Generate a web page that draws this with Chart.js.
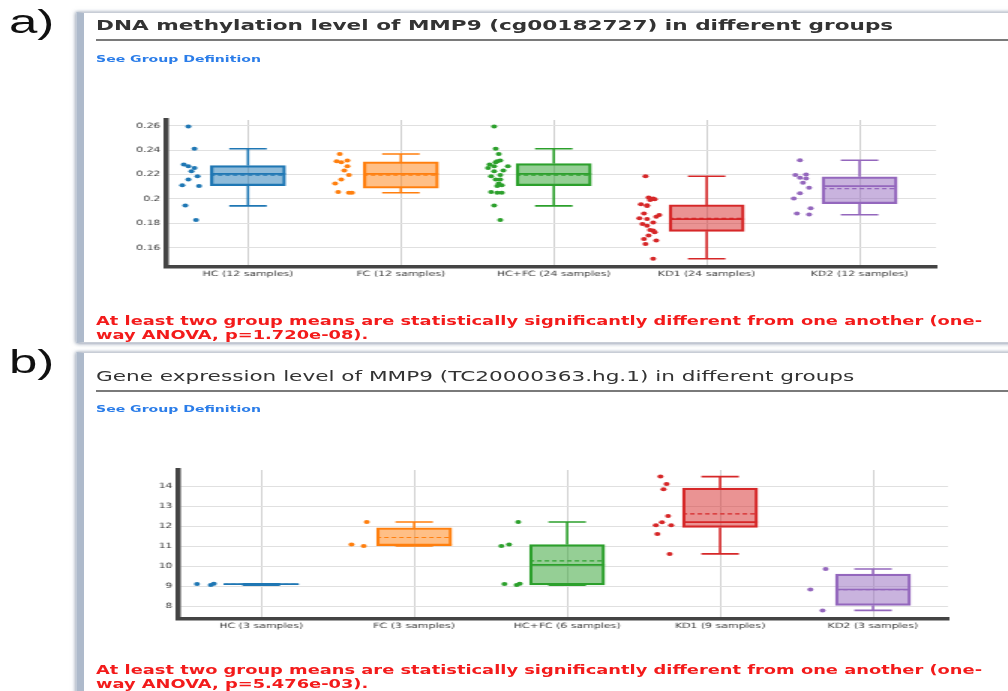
<!DOCTYPE html>
<html>
<head>
<meta charset="utf-8">
<script src="https://cdn.jsdelivr.net/npm/chart.js@4"></script>
<style>
  html, body { margin: 0; padding: 0; background: #fff; overflow: hidden; width: 1008px; height: 691px; }
  /* the reference is stretched sideways, so the whole page is laid out narrow and widened */
  #page { position: absolute; left: 0; top: 0; width: 672px; height: 691px; transform: scaleX(1.5); transform-origin: 0 0; font-family: "DejaVu Sans", sans-serif; }
  .lbl { position: absolute; left: 6px; font-family: "Liberation Sans", Arial, sans-serif; font-size: 34px; line-height: 34px; color: #111; }
  .panel { position: absolute; left: 51px; width: 660px; background: #fff; border-left: 5px solid #aebacb; border-top: 1px solid #c8cdd6; border-bottom: 1px solid #c8cdd6; box-shadow: -1px 0 3px rgba(110,125,150,.55), 0 1px 3px rgba(110,125,150,.45); }
  .title { position: absolute; left: 64px; font-size: 14.4px; line-height: 1; color: #333; white-space: nowrap; }
  .rule { position: absolute; left: 64px; width: 620px; height: 2px; background: #7a7a7a; }
  .link { position: absolute; left: 64px; font-size: 9.4px; line-height: 1; font-weight: bold; color: #2b7de9; white-space: nowrap; }
  .note { position: absolute; left: 64px; font-size: 11.9px; line-height: 14px; font-weight: bold; color: #f31b1b; white-space: nowrap; }
  canvas { position: absolute; }
</style>
</head>
<body>
<div id="page">
  <div class="lbl" style="top:4px">a)</div>
  <div class="panel" style="top:12px;height:329px"></div>
  <div class="title" style="top:18px;font-weight:bold">DNA methylation level of MMP9 (cg00182727) in different groups</div>
  <div class="rule" style="top:39px"></div>
  <div class="link" style="top:54px">See Group Definition</div>
  <canvas id="chartA" width="570" height="180" style="left:66px;top:110px"></canvas>
  <div class="note" style="top:314px">At least two group means are statistically significantly different from one another (one-<br>way ANOVA, p=1.720e-08).</div>

  <div class="lbl" style="top:344px">b)</div>
  <div class="panel" style="top:352px;height:360px"></div>
  <div class="title" style="top:369px">Gene expression level of MMP9 (TC20000363.hg.1) in different groups</div>
  <div class="rule" style="top:390px"></div>
  <div class="link" style="top:404px">See Group Definition</div>
  <canvas id="chartB" width="580" height="180" style="left:66px;top:460px"></canvas>
  <div class="note" style="top:663px">At least two group means are statistically significantly different from one another (one-<br>way ANOVA, p=5.476e-03).</div>
</div>

<script>
const colors = ["#1f77b4", "#ff7f0e", "#2ca02c", "#d62728", "#9467bd"];
const fills = ["rgba(31,119,180,0.5)", "rgba(255,127,14,0.5)", "rgba(44,160,44,0.5)", "rgba(214,39,40,0.5)", "rgba(148,103,189,0.5)"];

// ---- a) DNA methylation ----
const groupsA = ["HC (12 samples)", "FC (12 samples)", "HC+FC (24 samples)", "KD1 (24 samples)", "KD2 (12 samples)"];
const ticksA = [0.16, 0.18, 0.2, 0.22, 0.24, 0.26];

const hcA = [0.2592, 0.2411, 0.2281, 0.2268, 0.2254, 0.2227, 0.2186, 0.2159, 0.2111, 0.2105, 0.1946, 0.1827];
const hcJitA = [-0.39, -0.35, -0.42, -0.39, -0.35, -0.37, -0.33, -0.39, -0.43, -0.32, -0.41, -0.34];
const fcA = [0.2368, 0.2308, 0.2300, 0.2314, 0.2268, 0.2232, 0.2195, 0.2159, 0.2127, 0.2057, 0.2051, 0.2051];
const fcJitA = [-0.40, -0.42, -0.39, -0.35, -0.35, -0.37, -0.34, -0.39, -0.43, -0.41, -0.34, -0.32];
const hcfcA = [0.2592, 0.2411, 0.2368, 0.2314, 0.2308, 0.2300, 0.2281, 0.2268, 0.2268, 0.2254, 0.2232, 0.2227,
               0.2195, 0.2186, 0.2159, 0.2159, 0.2127, 0.2111, 0.2105, 0.2057, 0.2051, 0.2051, 0.1946, 0.1827];
const hcfcJitA = [-0.39, -0.38, -0.36, -0.35, -0.37, -0.38, -0.42, -0.39, -0.30, -0.43, -0.33, -0.39,
                  -0.35, -0.41, -0.38, -0.35, -0.36, -0.34, -0.37, -0.41, -0.37, -0.34, -0.39, -0.35];
const kd1A = [0.2186, 0.2011, 0.2003, 0.1997, 0.1992, 0.1957, 0.1949, 0.1943, 0.1881, 0.1868, 0.1854, 0.1841,
              0.1835, 0.1808, 0.1795, 0.1781, 0.1746, 0.1741, 0.1727, 0.1700, 0.1673, 0.1659, 0.1632, 0.1511];
const kd1JitA = [-0.40, -0.38, -0.35, -0.34, -0.37, -0.43, -0.39, -0.39, -0.41, -0.31, -0.33, -0.44,
                 -0.39, -0.35, -0.42, -0.39, -0.37, -0.35, -0.34, -0.38, -0.41, -0.33, -0.40, -0.35];
const kd2A = [0.2316, 0.2195, 0.2200, 0.2173, 0.2168, 0.2132, 0.2092, 0.2046, 0.2003, 0.1924, 0.1881, 0.1873];
const kd2JitA = [-0.39, -0.42, -0.35, -0.39, -0.35, -0.37, -0.33, -0.39, -0.43, -0.32, -0.41, -0.33];

const loA = [0.1943, 0.2051, 0.1943, 0.1511, 0.1870];
const q1A = [0.2108, 0.2089, 0.2108, 0.1735, 0.1962];
const medA = [0.2205, 0.2205, 0.2205, 0.1835, 0.2105];
const meanA = [0.2195, 0.2195, 0.2195, 0.1841, 0.2084];
const q3A = [0.2273, 0.2303, 0.2289, 0.1951, 0.2181];
const hiA = [0.2411, 0.2368, 0.2411, 0.2186, 0.2316];

// ---- b) gene expression ----
const groupsB = ["HC (3 samples)", "FC (3 samples)", "HC+FC (6 samples)", "KD1 (9 samples)", "KD2 (3 samples)"];
const ticksB = [8, 9, 10, 11, 12, 13, 14];

const hcB = [9.117, 9.067, 9.133];
const hcJitB = [-0.42, -0.33, -0.31];
const fcB = [11.1, 11.03, 12.23];
const fcJitB = [-0.41, -0.33, -0.31];
const hcfcB = [12.23, 11.03, 11.1, 9.117, 9.067, 9.133];
const hcfcJitB = [-0.32, -0.43, -0.38, -0.41, -0.33, -0.31];
const kd1B = [14.5, 14.13, 13.87, 12.53, 12.22, 12.07, 12.07, 11.63, 10.63];
const kd1JitB = [-0.39, -0.35, -0.37, -0.34, -0.38, -0.42, -0.32, -0.41, -0.33];
const kd2B = [9.87, 8.85, 7.8];
const kd2JitB = [-0.31, -0.41, -0.33];

const loB = [9.067, 11.03, 9.067, 10.63, 7.8];
const q1B = [9.1, 11.03, 9.08, 11.95, 8.05];
const medB = [9.117, 11.1, 10.08, 12.22, 8.85];
const meanB = [9.106, 11.45, 10.28, 12.63, 8.84];
const q3B = [9.12, 11.93, 11.1, 13.92, 9.62];
const hiB = [9.133, 12.23, 12.23, 14.5, 9.87];

// whiskers, caps, median and dashed mean for each box
function boxLines(lo, q1, med, mean, q3, hi) {
  return {
    id: "boxLines",
    afterDatasetsDraw(chart) {
      const { ctx, scales: { x, y } } = chart;
      const bars = chart.getDatasetMeta(0).data;
      ctx.save();
      med.forEach((m, i) => {
        const cx = x.getPixelForValue(i);
        const half = bars[i].width / 2;
        const cap = half / 2;
        const yLo = y.getPixelForValue(lo[i]), yHi = y.getPixelForValue(hi[i]);
        ctx.strokeStyle = colors[i];
        ctx.lineWidth = 1.6;
        ctx.setLineDash([]);
        ctx.beginPath();
        ctx.moveTo(cx, y.getPixelForValue(q3[i])); ctx.lineTo(cx, yHi);
        ctx.moveTo(cx, y.getPixelForValue(q1[i])); ctx.lineTo(cx, yLo);
        ctx.moveTo(cx - cap, yHi); ctx.lineTo(cx + cap, yHi);
        ctx.moveTo(cx - cap, yLo); ctx.lineTo(cx + cap, yLo);
        const ym = y.getPixelForValue(m);
        ctx.moveTo(cx - half, ym); ctx.lineTo(cx + half, ym);
        ctx.stroke();
        ctx.setLineDash([3, 2]);
        ctx.lineWidth = 1.2;
        ctx.beginPath();
        const ya = y.getPixelForValue(mean[i]);
        ctx.moveTo(cx - half, ya); ctx.lineTo(cx + half, ya);
        ctx.stroke();
      });
      ctx.restore();
    }
  };
}

function makeChart(id, groups, ticks, series, jitters, stats, range, fit) {
  const [lo, q1, med, mean, q3, hi] = stats;
  const datasets = [{
    type: "bar",
    data: q1.map((v, i) => ({ x: i, y: [v, q3[i]] })),
    backgroundColor: fills,
    borderColor: colors,
    borderWidth: 1.6,
    borderSkipped: false,
    barThickness: 50,
    order: 2
  }];
  series.forEach((vals, g) => {
    datasets.push({
      type: "scatter",
      data: vals.map((v, k) => ({ x: g + jitters[g][k], y: v })),
      pointRadius: 2,
      pointBorderWidth: 0,
      pointBackgroundColor: colors[g],
      order: 1
    });
  });

  const tickFont = { family: "DejaVu Sans", size: 7.3 };
  new Chart(document.getElementById(id), {
    type: "scatter",
    data: { datasets: datasets },
    options: {
      responsive: false,
      animation: false,
      layout: { padding: { top: 10, right: fit.right, left: 0, bottom: 0 } },
      plugins: { legend: { display: false }, tooltip: { enabled: false } },
      scales: {
        x: {
          type: "linear",
          min: range.xmin,
          max: range.xmax,
          offset: false,
          afterBuildTicks: (s) => { s.ticks = groups.map((g, i) => ({ value: i })); },
          afterFit: (s) => { s.height = fit.xh; },
          ticks: { callback: (v) => groups[v], color: "#3a3a3a", font: tickFont, padding: 3, maxRotation: 0, autoSkip: false },
          grid: { color: "#d0d0d0", lineWidth: 1, drawTicks: false, offset: false },
          border: { display: true, color: "#444", width: 3.5 }
        },
        y: {
          min: range.ymin,
          max: range.ymax,
          beginAtZero: false,
          afterBuildTicks: (s) => { s.ticks = ticks.map((v) => ({ value: v })); },
          afterFit: (s) => { s.width = fit.yw; },
          ticks: { callback: (v) => String(+v.toFixed(2)), color: "#3a3a3a", font: tickFont, padding: 4 },
          grid: { color: "#e0e0e0", lineWidth: 1, drawTicks: false },
          border: { display: true, color: "#444", width: 3.5 }
        }
      }
    },
    plugins: [boxLines(lo, q1, med, mean, q3, hi)]
  });
}

makeChart("chartA", groupsA, ticksA,
  [hcA, fcA, hcfcA, kd1A, kd2A],
  [hcJitA, fcJitA, hcfcJitA, kd1JitA, kd2JitA],
  [loA, q1A, medA, meanA, q3A, hiA],
  { xmin: -0.533, xmax: 4.5, ymin: 0.1443, ymax: 0.2646 },
  { yw: 45, xh: 23, right: 12 });

makeChart("chartB", groupsB, ticksB,
  [hcB, fcB, hcfcB, kd1B, kd2B],
  [hcJitB, fcJitB, hcfcJitB, kd1JitB, kd2JitB],
  [loB, q1B, medB, meanB, q3B, hiB],
  { xmin: -0.541, xmax: 4.49, ymin: 7.37, ymax: 14.83 },
  { yw: 53, xh: 21, right: 14 });
</script>
</body>
</html>
